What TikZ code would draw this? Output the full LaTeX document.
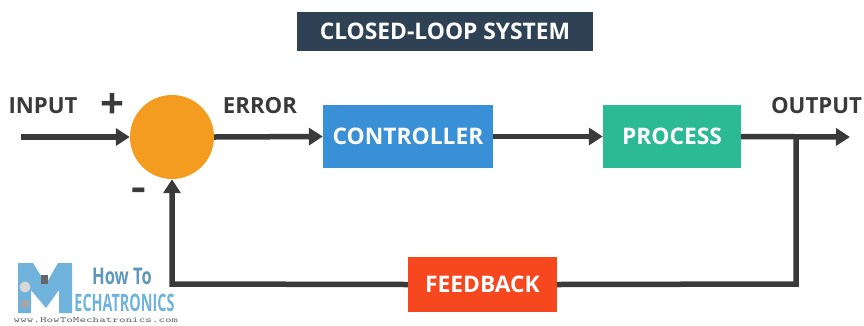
\documentclass[tikz,border=0pt]{standalone}
\usepackage{fontspec}
\setmainfont{Open Sans}
\usetikzlibrary{arrows.meta}
\definecolor{linec}{HTML}{3A3A3A}
\definecolor{titlec}{HTML}{2E4155}
\definecolor{orangec}{HTML}{F39C1F}
\definecolor{bluec}{HTML}{3A90D6}
\definecolor{greenc}{HTML}{2BB996}
\definecolor{redc}{HTML}{F7471E}
\definecolor{logoc}{HTML}{6FB3DC}
\tikzset{
 x=1pt,y=-1pt,
 blockbox/.style={rectangle,inner sep=0pt,text=white,font=\bfseries\fontsize{22.8}{26}\selectfont},
 lab/.style={text=linec,inner sep=0pt,font=\bfseries\fontsize{22.2}{26}\selectfont},
 conn/.style={line width=5.5pt,draw=linec},
 arr/.style={conn,-{Triangle[length=14pt,width=17pt]}},
}
\begin{document}
\begin{tikzpicture}
\useasboundingbox (0,0) rectangle (864,325);
\node[blockbox,fill=titlec,minimum width=296pt,minimum height=39pt] (title) at (445,31.5) {CLOSED-LOOP SYSTEM};
\node[circle,fill=orangec,inner sep=0pt,minimum size=84pt] (sum) at (172,137) {};
\node[blockbox,fill=bluec,minimum width=170pt,minimum height=63pt] (ctrl) at (408,136.5) {CONTROLLER};
\node[blockbox,fill=greenc,minimum width=138pt,minimum height=63pt] (proc) at (672,136.5) {PROCESS};
\node[blockbox,fill=redc,minimum width=149pt,minimum height=55pt] (fb) at (482.5,284.5) {FEEDBACK};
\coordinate (in) at (21,137);
\coordinate (out) at (850,137);
\coordinate (tap) at (796,137);
\coordinate (dn) at (796,284);
\coordinate (lf) at (172,284);
\draw[arr] (in) -- (sum.west);
\draw[arr] (sum.east) -- (ctrl.west);
\draw[arr] (ctrl.east) -- (proc.west);
\draw[arr] (proc.east) -- (out);
\draw[conn,line join=miter] (tap) -- (dn) -- (fb.east);
\draw[arr,line join=miter] (fb.west) -- (lf) -- (sum.south);
\node[lab] (linput) at (43,106) {INPUT};
\node[lab] (lerror) at (260,106) {ERROR};
\node[lab] (loutput) at (816.5,106) {OUTPUT};
\node[text=linec,inner sep=0pt,font=\bfseries\fontsize{42}{42}\selectfont] (lplus) at (112,106) {+};
\node[text=linec,inner sep=0pt,font=\bfseries\fontsize{38}{38}\selectfont,xscale=1.2] (lminus) at (139,194) {-};
% logo
\fill[logoc] (18,263) -- (33,263) -- (46,284) -- (58,263) -- (72,263) -- (72,313) -- (59,313) -- (59,290) -- (46,308) -- (31,290) -- (31,313) -- (18,313) -- cycle;
\fill[white!70!gray] (25,287) circle (5.5);
\fill[gray!70] (25,304) circle (4.5);
\fill[gray!80!black] (41,275) rectangle (48,284);
\node[text=logoc!85!black,inner sep=0pt,font=\bfseries\fontsize{23}{23}\selectfont,xscale=.72] (lhow) at (122,276) {How To};
\node[text=logoc,inner sep=0pt,font=\bfseries\fontsize{24}{24}\selectfont,xscale=.6] (lmech) at (124.5,303) {ECHATRONICS};
\node[text=gray!80!black,inner sep=0pt,font=\ttfamily\fontsize{8}{8}\selectfont,xscale=1.55] (lurl) at (96,320.5) {www.HowToMechatronics.com};
\end{tikzpicture}
\end{document}
